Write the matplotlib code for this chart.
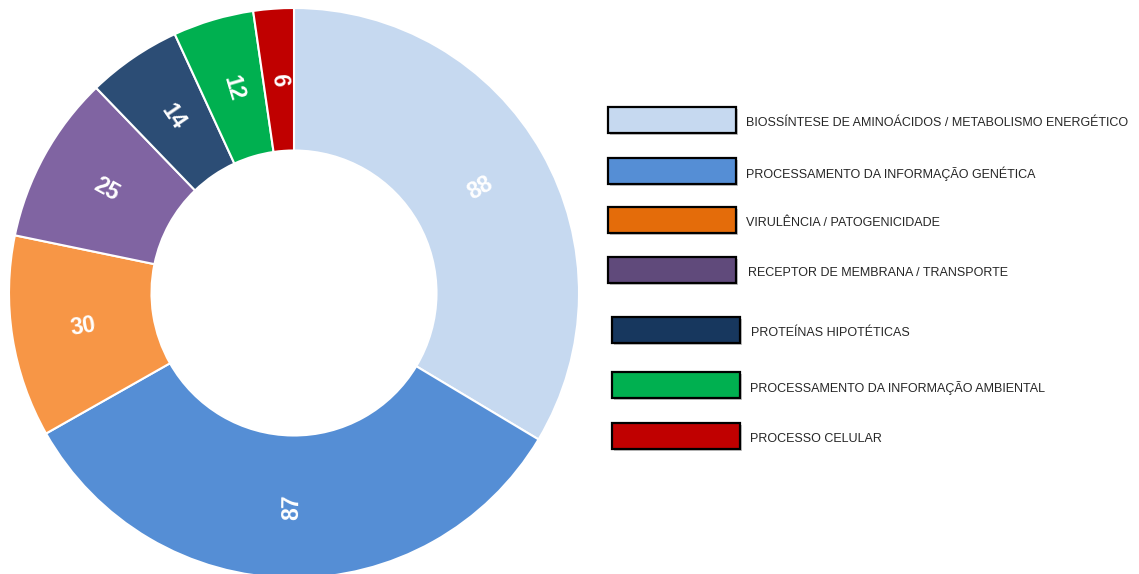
import matplotlib.pyplot as plt
from matplotlib.patches import Rectangle
import numpy as np

plt.rcParams['font.family'] = ['Liberation Sans', 'DejaVu Sans']

# Dados
categorias = [
    'BIOSSÍNTESE DE AMINOÁCIDOS / METABOLISMO ENERGÉTICO',
    'PROCESSAMENTO DA INFORMAÇÃO GENÉTICA',
    'VIRULÊNCIA / PATOGENICIDADE',
    'RECEPTOR DE MEMBRANA / TRANSPORTE',
    'PROTEÍNAS HIPOTÉTICAS',
    'PROCESSAMENTO DA INFORMAÇÃO AMBIENTAL',
    'PROCESSO CELULAR',
]
valores = [88, 87, 30, 25, 14, 12, 6]

cores_pizza = ['#C6D9F0', '#558ED5', '#F79646', '#8064A2', '#2C4D75', '#00B050', '#C00000']
cores_legenda = ['#C6D9F0', '#558ED5', '#E46C0A', '#604A7B', '#17375E', '#00B050', '#C00000']

# Layout (pixels)
W, H = 1139, 574
cx, cy, raio = 294, 293, 285
legenda_y = [120, 171, 220, 270, 330, 385, 436]
legenda_x = [608, 608, 608, 608, 612, 612, 612]
texto_x = [746, 746, 746, 748, 751, 750, 750]

fig = plt.figure(figsize=(W / 100, H / 100), dpi=100)

# Gráfico de rosca
ax = fig.add_axes([(cx - raio) / W, (H - cy - raio) / H, 2 * raio / W, 2 * raio / H])
total = sum(valores)
wedges, _, autotexts = ax.pie(
    valores,
    colors=cores_pizza,
    startangle=90,
    counterclock=False,
    radius=1,
    autopct=lambda p: '%d' % round(p * total / 100),
    pctdistance=0.75,
    wedgeprops=dict(width=0.5, edgecolor='white', linewidth=1.5),
    textprops=dict(color='white', fontsize=16.5, fontweight='bold'),
)
ax.set_xlim(-1, 1)
ax.set_ylim(-1, 1)
ax.set_aspect('equal')
ax.axis('off')

# Rotaciona os rótulos na direção radial
for w, t in zip(wedges, autotexts):
    ang = (w.theta1 + w.theta2) / 2
    rot = (ang + 90) % 180 - 90
    t.set_rotation(rot)
    t.set_rotation_mode('anchor')
    t.set_ha('center')
    t.set_va('center')

# Legenda desenhada à mão
lax = fig.add_axes([0, 0, 1, 1])
lax.set_xlim(0, W)
lax.set_ylim(H, 0)
lax.axis('off')
for i in range(len(categorias)):
    y = legenda_y[i]
    x = legenda_x[i]
    lax.add_patch(Rectangle((x + 2, y - 11), 128, 26, facecolor='#A0A0A0', edgecolor='none', alpha=0.6))
    lax.add_patch(Rectangle((x, y - 13), 128, 26, facecolor=cores_legenda[i], edgecolor='black', linewidth=1.6))
    lax.text(texto_x[i], y + 3, categorias[i], fontsize=9.0, color='#262626', va='center', ha='left')

fig.savefig('out.png', dpi=100)
